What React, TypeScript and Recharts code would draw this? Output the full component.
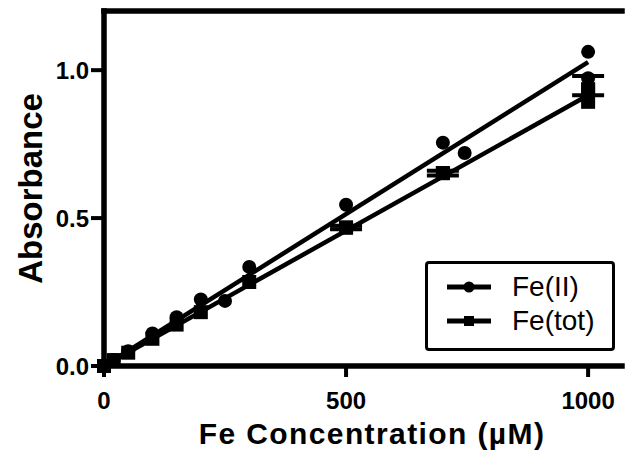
import React from 'react';
import { ComposedChart, Scatter, XAxis, YAxis, ErrorBar, Legend, ReferenceLine } from 'recharts';

const FONT = '"Liberation Sans", Arial, Helvetica, sans-serif';

// Fe(II) measurements (circles)
const feIIConc = [0, 20, 50, 100, 150, 200, 250, 300, 500, 700, 745, 1000, 1000];
const feIIAbs = [0, 0.02, 0.05, 0.11, 0.165, 0.225, 0.22, 0.335, 0.545, 0.755, 0.72, 1.062, 0.973];

// Fe(tot) measurements (squares)
const feTotConc = [0, 20, 50, 100, 150, 200, 300, 500, 700, 1000, 1000];
const feTotAbs = [0, 0.02, 0.045, 0.092, 0.14, 0.182, 0.284, 0.468, 0.652, 0.935, 0.893];

// Fe(tot) points that carry error bars (lower, upper)
const feTotErrConc = [500, 700, 1000];
const feTotErrAbs = [0.468, 0.652, 0.935];
const feTotErrLow = [0.006, 0.008, 0.02];
const feTotErrHigh = [0.006, 0.008, 0.045];

// Linear fit endpoints
const fitIIConc = [0, 1000];
const fitIIAbs = [0, 1.027];
const fitTotConc = [0, 1000];
const fitTotAbs = [0, 0.915];

const xTicks = [0, 500, 1000];
const yTicks = [0, 0.5, 1.0];
const yMax = 1.2;
const xMax = 1070;
const legendNames = ['Fe(II)', 'Fe(tot)'];

const feIIData = feIIConc.map((x, i) => ({ x, y: feIIAbs[i] }));
const feTotData = feTotConc.map((x, i) => ({ x, y: feTotAbs[i] }));
const feTotErrData = feTotErrConc.map((x, i) => ({ x, y: feTotErrAbs[i], err: [feTotErrLow[i], feTotErrHigh[i]] }));
const fitIIData = fitIIConc.map((x, i) => ({ x, y: fitIIAbs[i] }));
const fitTotData = fitTotConc.map((x, i) => ({ x, y: fitTotAbs[i] }));

const Circle = (p: any) => <circle cx={p.cx} cy={p.cy} r={7} fill="#000" />;
const Square = (p: any) => <rect x={p.cx - 7} y={p.cy - 7} width={14} height={14} fill="#000" />;
const Nothing = () => <g />;

const css = `
svg .recharts-cartesian-axis-line { stroke: #000 !important; stroke-width: 5.5px !important; stroke-linecap: square !important; }
svg .recharts-cartesian-axis-tick-line { stroke: #000 !important; stroke-width: 4px !important; }
svg .recharts-reference-line-line { stroke: #000 !important; stroke-width: 5.5px !important; stroke-linecap: square !important; }
`;

const renderLegend = () => (
  <div
    style={{
      boxSizing: 'border-box',
      width: 190,
      height: 90,
      border: '3.5px solid #000',
      borderRadius: 4,
      background: '#fff',
      position: 'relative',
      fontFamily: FONT,
      fontSize: 28,
      color: '#000',
    }}
  >
    {legendNames.map((name, i) => (
      <div
        key={name}
        style={{
          position: 'absolute',
          left: 19,
          top: 6 + i * 34,
          height: 34,
          display: 'flex',
          alignItems: 'center',
          whiteSpace: 'nowrap',
        }}
      >
        <svg width={44} height={20} style={{ display: 'block' }}>
          <line x1={0} y1={10} x2={44} y2={10} stroke="#000" strokeWidth={5} strokeLinecap="round" />
          {i === 0 ? <circle cx={22} cy={10} r={5.5} fill="#000" /> : <rect x={17} y={5} width={10} height={10} fill="#000" />}
        </svg>
        <span style={{ marginLeft: 21, lineHeight: '34px' }}>{name}</span>
      </div>
    ))}
  </div>
);

const tickStyle = { fill: '#000', fontSize: 24, fontWeight: 700, fontFamily: FONT, stroke: 'none' };

export default function App() {
  return (
    <div style={{ position: 'absolute', left: 0, top: 0, background: '#fff' }}>
      <style>{css}</style>
      <ComposedChart width={629} height={460} margin={{ top: 11, right: 7, bottom: 14, left: 44 }}>
        <XAxis
          type="number"
          dataKey="x"
          domain={[0, xMax]}
          ticks={xTicks}
          height={80}
          tickSize={11}
          tickMargin={15}
          stroke="#000"
          tick={tickStyle}
          tickLine={{ stroke: '#000', strokeWidth: 4 }}
          axisLine={{ stroke: '#000', strokeWidth: 5.5 }}
          label={{
            content: (props: any) => {
              const vb = props.viewBox;
              return (
                <text
                  x={vb.x + vb.width / 2 + 9}
                  y={444}
                  textAnchor="middle"
                  fontFamily={FONT}
                  fontSize={30}
                  fontWeight={700}
                  letterSpacing={1.4}
                  fill="#000"
                >
                  Fe Concentration (µM)
                </text>
              );
            },
          }}
        />
        <YAxis
          type="number"
          dataKey="y"
          domain={[0, yMax]}
          ticks={yTicks}
          width={60}
          tickSize={13}
          tickMargin={2}
          stroke="#000"
          tick={tickStyle}
          tickFormatter={(v: number) => v.toFixed(1)}
          tickLine={{ stroke: '#000', strokeWidth: 4 }}
          axisLine={{ stroke: '#000', strokeWidth: 5.5 }}
          label={{
            content: (props: any) => {
              const vb = props.viewBox;
              const cy = vb.y + vb.height / 2;
              return (
                <text
                  transform={`translate(42, ${cy}) rotate(-90)`}
                  textAnchor="middle"
                  fontFamily={FONT}
                  fontSize={33}
                  fontWeight={700}
                  fill="#000"
                >
                  Absorbance
                </text>
              );
            },
          }}
        />
        <ReferenceLine y={yMax} stroke="#000" strokeWidth={5.5} ifOverflow="visible" />
        <Scatter data={fitIIData} line={{ stroke: '#000', strokeWidth: 4.5 }} shape={Nothing} isAnimationActive={false} legendType="none" />
        <Scatter data={fitTotData} line={{ stroke: '#000', strokeWidth: 4.5 }} shape={Nothing} isAnimationActive={false} legendType="none" />
        <Scatter name="Fe(tot)" data={feTotData} shape={Square} isAnimationActive={false} />
        <Scatter data={feTotErrData} shape={Square} isAnimationActive={false} legendType="none">
          <ErrorBar dataKey="err" direction="y" width={16} stroke="#000" strokeWidth={4} isAnimationActive={false} />
        </Scatter>
        <Scatter name="Fe(II)" data={feIIData} shape={Circle} isAnimationActive={false} />
        <Legend
          layout="vertical"
          align="center"
          verticalAlign="middle"
          content={renderLegend}
          wrapperStyle={{ position: 'absolute', left: 425, top: 261, width: 190, height: 90 }}
        />
      </ComposedChart>
    </div>
  );
}
